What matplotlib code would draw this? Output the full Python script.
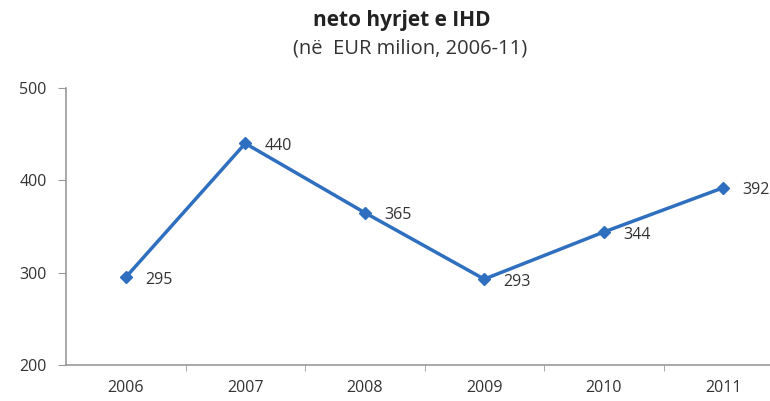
import matplotlib.pyplot as plt

years = ["2006", "2007", "2008", "2009", "2010", "2011"]
inflows = [295, 440, 365, 293, 344, 392]
y_ticks = [200, 300, 400, 500]

plt.rcParams["font.family"] = ["Open Sans", "DejaVu Sans"]

fig = plt.figure(figsize=(7.7, 4.01), dpi=100)
# axes run a little past the right edge, like the cut-off original
ax = fig.add_axes([66 / 770, 1 - 365 / 401, 717 / 770, 277 / 401])

x = list(range(len(years)))
ax.plot(x, inflows, color="#2f6fbf", linewidth=2.5, marker="D", markersize=6.5)
for xi, v in zip(x, inflows):
    ax.annotate(str(v), (xi, v), xytext=(14, -2), textcoords="offset points",
                fontsize=11.5, color="#333333", va="center")

ax.set_xlim(-0.5, len(years) - 0.5)
ax.set_ylim(200, 500)
ax.set_yticks(y_ticks)
ax.set_xticks(x)
ax.set_xticklabels(years)
ax.set_xticks([i + 0.5 for i in x[:-1]], minor=True)
ax.tick_params(axis="x", which="major", length=0, pad=11, labelsize=11.5, colors="#333333")
ax.tick_params(axis="x", which="minor", length=4, direction="out", color="#999999")
ax.tick_params(axis="y", length=6, color="#999999", labelsize=11.5, labelcolor="#333333", pad=8)

for s in ["top", "right"]:
    ax.spines[s].set_visible(False)
for s in ["left", "bottom"]:
    ax.spines[s].set_color("#999999")
    ax.spines[s].set_linewidth(1.2)

fig.text(0.522, 0.935, "neto hyrjet e IHD", ha="center", fontsize=15, fontweight="bold", color="#222222")
fig.text(0.533, 0.866, "(në  EUR milion, 2006-11)", ha="center", fontsize=14.5, color="#333333")

fig.savefig("out.png", dpi=100)
